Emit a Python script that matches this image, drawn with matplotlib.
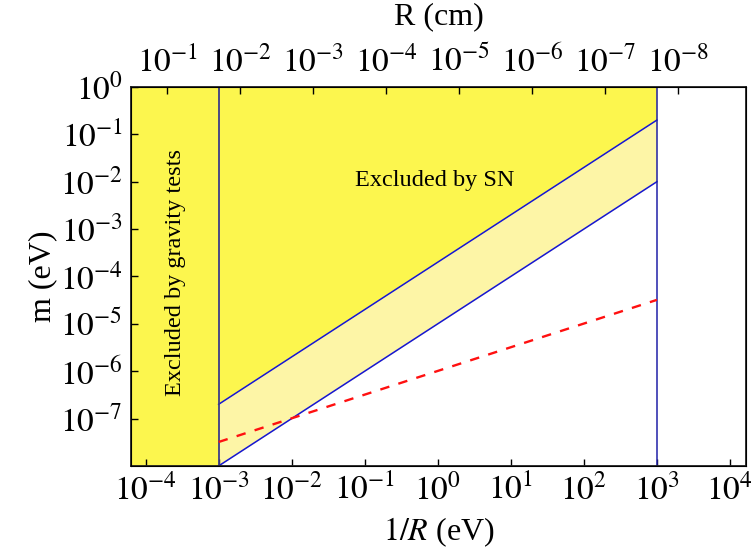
import numpy as np
import matplotlib as mpl
import matplotlib.pyplot as plt

mpl.rcParams['font.family'] = ['Liberation Serif', 'DejaVu Serif']
mpl.rcParams['mathtext.fontset'] = 'stix'

# bounds and lines in (1/R [eV], m [eV])
x_grav = 1e-3          # gravity tests limit
x_max = 1e3            # upper edge of the plotted band
sn_upper_x = [1e-3, 1e3]
sn_upper_m = [2e-7, 2e-1]
sn_lower_x = [1e-3, 1e3]
sn_lower_m = [1e-8, 1e-2]
red_x = [1e-3, 1e3]
red_m = [3.2e-8, 3.2e-5]

# top axis, R in cm (hbar*c = 1.97e-5 eV cm)
hbarc = 1.97e-5
r_ticks_cm = [1e-1, 1e-2, 1e-3, 1e-4, 1e-5, 1e-6, 1e-7, 1e-8]
r_labels = [r'$10^{-1}$', r'$10^{-2}$', r'$10^{-3}$', r'$10^{-4}$',
            r'$10^{-5}$', r'$10^{-6}$', r'$10^{-7}$', r'$10^{-8}$']

x_ticks = [1e-4, 1e-3, 1e-2, 1e-1, 1e0, 1e1, 1e2, 1e3, 1e4]
x_labels = [r'$10^{-4}$', r'$10^{-3}$', r'$10^{-2}$', r'$10^{-1}$', r'$10^{0}$',
            r'$10^{1}$', r'$10^{2}$', r'$10^{3}$', r'$10^{4}$']
y_ticks = [1e0, 1e-1, 1e-2, 1e-3, 1e-4, 1e-5, 1e-6, 1e-7]
y_labels = [r'$10^{0}$', r'$10^{-1}$', r'$10^{-2}$', r'$10^{-3}$',
            r'$10^{-4}$', r'$10^{-5}$', r'$10^{-6}$', r'$10^{-7}$']

yellow = '#fcf64e'
pale = '#fdf5a6'

fig = plt.figure(figsize=(7.52, 5.54), dpi=100)
ax = fig.add_axes([0.1742, 0.159, 0.8178, 0.684])
ax.set_xscale('log')
ax.set_yscale('log')
xlo, xhi = 10**-4.2, 10**4.22
ylo, yhi = 1e-8, 1e0
ax.set_xlim(xlo, xhi)
ax.set_ylim(ylo, yhi)

# excluded regions
ax.axvspan(xlo, x_grav, color=yellow, lw=0, zorder=0)
ax.fill_between(sn_upper_x, sn_upper_m, yhi, color=yellow, lw=0, zorder=0)
ax.fill_between(sn_lower_x, sn_lower_m, sn_upper_m, color=pale, lw=0, zorder=0)

ax.plot(sn_upper_x, sn_upper_m, color='#1515d5', lw=1.1)
ax.plot(sn_lower_x, sn_lower_m, color='#1515d5', lw=1.1)
ax.axvline(x_grav, color='#3c3c88', lw=1.3)
ax.axvline(x_max, color='#2020a8', lw=1.1)
ax.plot(red_x, red_m, color='#ff1010', lw=1.7, ls=(0, (4, 4)))

ax.text(0.91, 1.05e-2, 'Excluded by SN', fontsize=17.5, ha='center', va='center')
ax.text(2.6e-4, 1.2e-4, 'Excluded by gravity tests', fontsize=17.5,
        rotation=90, ha='center', va='center')

ax.set_xticks(x_ticks)
ax.set_xticklabels(x_labels)
ax.set_yticks(y_ticks)
ax.set_yticklabels(y_labels)
ax.minorticks_off()
ax.tick_params(direction='in', length=5, width=1, labelsize=24, pad=6,
               right=False, top=False)
ax.set_xlabel(r'$1/R$ (eV)', fontsize=23, labelpad=6)
ax.set_ylabel('m (eV)', fontsize=23, labelpad=2)
for s in ax.spines.values():
    s.set_linewidth(1.3)
    s.set_color('#222222')

# R (cm) on top
top = ax.twiny()
top.set_xscale('log')
top.set_xlim(xlo, xhi)
top.set_xticks([hbarc / r for r in r_ticks_cm])
top.set_xticklabels(r_labels)
top.minorticks_off()
top.tick_params(direction='in', length=5, width=1, labelsize=24, pad=6)
top.set_xlabel('R (cm)', fontsize=23, labelpad=14)

fig.savefig('out.png', dpi=100)
